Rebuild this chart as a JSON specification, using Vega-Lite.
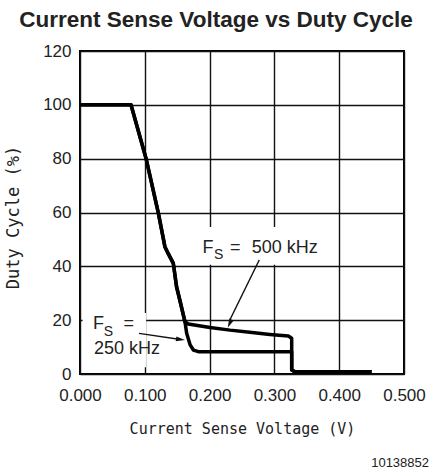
{
  "$schema": "https://vega.github.io/schema/vega-lite/v6.json",
  "autosize": "none",
  "width": 324,
  "height": 323,
  "padding": {"left": 80, "top": 51, "right": 28, "bottom": 95},
  "background": "white",
  "config": {
    "view": {"stroke": "black", "strokeWidth": 2},
    "font": "Liberation Sans"
  },
  "title": {
    "text": "Current Sense Voltage vs Duty Cycle",
    "font": "Liberation Sans",
    "fontSize": 22.5,
    "fontWeight": "bold",
    "color": "#222",
    "anchor": "middle",
    "baseline": "alphabetic",
    "offset": -7,
    "dx": -26
  },
  "datasets": {
    "curves": [
      {"series": "500 kHz", "i": 1, "v": 0, "dc": 100},
      {"series": "500 kHz", "i": 2, "v": 0.0787, "dc": 100},
      {"series": "500 kHz", "i": 3, "v": 0.102, "dc": 80},
      {"series": "500 kHz", "i": 4, "v": 0.121, "dc": 59.7},
      {"series": "500 kHz", "i": 5, "v": 0.131, "dc": 47.3},
      {"series": "500 kHz", "i": 6, "v": 0.136, "dc": 44.8},
      {"series": "500 kHz", "i": 7, "v": 0.144, "dc": 41.1},
      {"series": "500 kHz", "i": 8, "v": 0.149, "dc": 32.4},
      {"series": "500 kHz", "i": 9, "v": 0.154, "dc": 27.5},
      {"series": "500 kHz", "i": 10, "v": 0.162, "dc": 19.4},
      {"series": "500 kHz", "i": 11, "v": 0.167, "dc": 18.6},
      {"series": "500 kHz", "i": 12, "v": 0.2006, "dc": 17.3},
      {"series": "500 kHz", "i": 13, "v": 0.2315, "dc": 16.3},
      {"series": "500 kHz", "i": 14, "v": 0.262, "dc": 15.5},
      {"series": "500 kHz", "i": 15, "v": 0.293, "dc": 14.7},
      {"series": "500 kHz", "i": 16, "v": 0.3215, "dc": 14.1},
      {"series": "500 kHz", "i": 17, "v": 0.3267, "dc": 13.3},
      {"series": "500 kHz", "i": 18, "v": 0.3267, "dc": 1.5},
      {"series": "500 kHz", "i": 19, "v": 0.332, "dc": 0.8},
      {"series": "500 kHz", "i": 20, "v": 0.45, "dc": 0.8},
      {"series": "250 kHz", "i": 1, "v": 0, "dc": 100},
      {"series": "250 kHz", "i": 2, "v": 0.0787, "dc": 100},
      {"series": "250 kHz", "i": 3, "v": 0.102, "dc": 80},
      {"series": "250 kHz", "i": 4, "v": 0.121, "dc": 59.7},
      {"series": "250 kHz", "i": 5, "v": 0.131, "dc": 47.3},
      {"series": "250 kHz", "i": 6, "v": 0.136, "dc": 44.8},
      {"series": "250 kHz", "i": 7, "v": 0.144, "dc": 41.1},
      {"series": "250 kHz", "i": 8, "v": 0.149, "dc": 32.4},
      {"series": "250 kHz", "i": 9, "v": 0.154, "dc": 27.5},
      {"series": "250 kHz", "i": 10, "v": 0.162, "dc": 19.4},
      {"series": "250 kHz", "i": 11, "v": 0.1646, "dc": 15.1},
      {"series": "250 kHz", "i": 12, "v": 0.170, "dc": 10.8},
      {"series": "250 kHz", "i": 13, "v": 0.175, "dc": 8.9},
      {"series": "250 kHz", "i": 14, "v": 0.1826, "dc": 8.3},
      {"series": "250 kHz", "i": 15, "v": 0.3215, "dc": 8.3},
      {"series": "250 kHz", "i": 16, "v": 0.3267, "dc": 8.3},
      {"series": "250 kHz", "i": 17, "v": 0.3267, "dc": 1.5},
      {"series": "250 kHz", "i": 18, "v": 0.332, "dc": 0.8},
      {"series": "250 kHz", "i": 19, "v": 0.45, "dc": 0.8}
    ]
  },
  "layer": [
    {
      "data": {"name": "curves"},
      "mark": {"type": "line", "color": "black", "strokeWidth": 3.5, "strokeJoin": "round"},
      "encoding": {
        "x": {
          "field": "v", "type": "quantitative",
          "scale": {"domain": [0, 0.5], "nice": false, "zero": false},
          "axis": {
            "values": [0, 0.05, 0.1, 0.15, 0.2, 0.25, 0.3, 0.35, 0.4, 0.45, 0.5],
            "labelExpr": "round(datum.value*100) % 10 == 0 ? format(datum.value, '.3f') : ''",
            "labelOverlap": false,
            "labelBound": false,
            "labelFlush": false,
            "ticks": false,
            "domain": false,
            "grid": true,
            "gridColor": "#111",
            "gridWidth": 1.4,
            "gridOpacity": 1,
            "labelFont": "Liberation Sans",
            "labelFontSize": 17,
            "labelColor": "#222",
            "labelPadding": 13,
            "title": "Current Sense Voltage (V)",
            "titleFont": "DejaVu Sans Mono",
            "titleFontSize": 15,
            "titleFontWeight": "normal",
            "titleColor": "#222",
            "titlePadding": 18
          }
        },
        "y": {
          "field": "dc", "type": "quantitative",
          "scale": {"domain": [0, 120], "nice": false},
          "axis": {
            "values": [0, 20, 40, 60, 80, 100, 120],
            "ticks": false,
            "domain": false,
            "grid": true,
            "gridColor": "#111",
            "gridWidth": 1.4,
            "gridOpacity": 1,
            "labelFont": "Liberation Sans",
            "labelFontSize": 17,
            "labelColor": "#222",
            "labelPadding": 9,
            "title": "Duty Cycle (%)",
            "titleFont": "DejaVu Sans Mono",
            "titleFontSize": 17,
            "titleFontWeight": "normal",
            "titleColor": "#222",
            "titlePadding": 20,
            "titleY": 166
          }
        },
        "detail": {"field": "series"},
        "order": {"field": "i"}
      }
    },
    {
      "data": {"values": [{"box": "500 kHz label"}]},
      "mark": {"type": "rect", "fill": "white", "stroke": null},
      "encoding": {
        "x": {"datum": 0.172}, "x2": {"datum": 0.386},
        "y": {"datum": 40.6}, "y2": {"datum": 54.6}
      }
    },
    {
      "data": {"values": [{"box": "250 kHz label"}]},
      "mark": {"type": "rect", "fill": "white", "stroke": null},
      "encoding": {
        "x": {"datum": 0.004}, "x2": {"datum": 0.102},
        "y": {"datum": 2.5}, "y2": {"datum": 22.7}
      }
    },
    {
      "data": {"values": [{"t": "F"}]},
      "mark": {"type": "text", "align": "left", "baseline": "alphabetic", "fontSize": 18, "color": "#222"},
      "encoding": {"x": {"datum": 0.189}, "y": {"datum": 45.1}, "text": {"field": "t"}}
    },
    {
      "data": {"values": [{"t": "S"}]},
      "mark": {"type": "text", "align": "left", "baseline": "alphabetic", "fontSize": 14, "color": "#222"},
      "encoding": {"x": {"datum": 0.2068}, "y": {"datum": 42.9}, "text": {"field": "t"}}
    },
    {
      "data": {"values": [{"t": "="}]},
      "mark": {"type": "text", "align": "left", "baseline": "alphabetic", "fontSize": 18, "color": "#222"},
      "encoding": {"x": {"datum": 0.2315}, "y": {"datum": 45.1}, "text": {"field": "t"}}
    },
    {
      "data": {"values": [{"t": "500 kHz"}]},
      "mark": {"type": "text", "align": "left", "baseline": "alphabetic", "fontSize": 18, "color": "#222"},
      "encoding": {"x": {"datum": 0.265}, "y": {"datum": 45.1}, "text": {"field": "t"}}
    },
    {
      "data": {"values": [{"t": "F"}]},
      "mark": {"type": "text", "align": "left", "baseline": "alphabetic", "fontSize": 18, "color": "#222"},
      "encoding": {"x": {"datum": 0.02}, "y": {"datum": 16.6}, "text": {"field": "t"}}
    },
    {
      "data": {"values": [{"t": "S"}]},
      "mark": {"type": "text", "align": "left", "baseline": "alphabetic", "fontSize": 14, "color": "#222"},
      "encoding": {"x": {"datum": 0.0365}, "y": {"datum": 14.3}, "text": {"field": "t"}}
    },
    {
      "data": {"values": [{"t": "="}]},
      "mark": {"type": "text", "align": "left", "baseline": "alphabetic", "fontSize": 18, "color": "#222"},
      "encoding": {"x": {"datum": 0.067}, "y": {"datum": 16.6}, "text": {"field": "t"}}
    },
    {
      "data": {"values": [{"t": "250 kHz"}]},
      "mark": {"type": "text", "align": "left", "baseline": "alphabetic", "fontSize": 18, "color": "#222"},
      "encoding": {"x": {"datum": 0.0216}, "y": {"datum": 7.3}, "text": {"field": "t"}}
    },
    {
      "data": {"values": [{"arrow": "500 kHz"}]},
      "mark": {"type": "rule", "color": "#111", "strokeWidth": 1.3},
      "encoding": {
        "x": {"datum": 0.2767}, "y": {"datum": 42.4},
        "x2": {"datum": 0.2315}, "y2": {"datum": 20.2}
      }
    },
    {
      "data": {"values": [{"arrow": "500 kHz"}]},
      "mark": {"type": "point", "shape": "M0,0L0.55,2L-0.55,2Z", "filled": true, "color": "#111", "opacity": 1, "size": 81, "angle": 205},
      "encoding": {"x": {"datum": 0.2279}, "y": {"datum": 17.2}}
    },
    {
      "data": {"values": [{"arrow": "250 kHz"}]},
      "mark": {"type": "rule", "color": "#111", "strokeWidth": 1.3},
      "encoding": {
        "x": {"datum": 0.091}, "y": {"datum": 15.1},
        "x2": {"datum": 0.150}, "y2": {"datum": 13.0}
      }
    },
    {
      "data": {"values": [{"arrow": "250 kHz"}]},
      "mark": {"type": "point", "shape": "M0,0L0.55,2L-0.55,2Z", "filled": true, "color": "#111", "opacity": 1, "size": 81, "angle": 98},
      "encoding": {"x": {"datum": 0.162}, "y": {"datum": 12.6}}
    },
    {
      "data": {"values": [{"t": "10138852"}]},
      "mark": {"type": "text", "align": "right", "baseline": "alphabetic", "fontSize": 13, "color": "#222"},
      "encoding": {"x": {"datum": 0.5386}, "y": {"datum": -34.4}, "text": {"field": "t"}}
    }
  ]
}
